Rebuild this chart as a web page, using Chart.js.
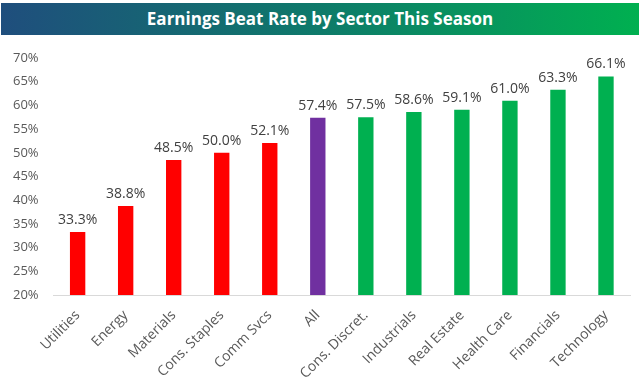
<!DOCTYPE html>
<html>
<head>
<meta charset="utf-8">
<script src="https://cdn.jsdelivr.net/npm/chart.js@4"></script>
<style>
  body { margin: 0; background: #fff; width: 642px; height: 386px; overflow: hidden; }
  #title {
    position: absolute; left: 1px; top: 3px; width: 638px; height: 32px;
    background: linear-gradient(to right, #1f4e7d, #0e7a6a 50%, #00b050);
    color: #fff; font: bold 17px "Open Sans", sans-serif; text-align: center; line-height: 31px;
  }
  #wrap { position: absolute; left: 0; top: 35px; width: 642px; height: 351px; }
</style>
</head>
<body>
<div id="title">Earnings Beat Rate by Sector This Season</div>
<div id="wrap"><canvas id="chart"></canvas></div>
<script>
// sectors and beat rates (%)
const sectors = ['Utilities', 'Energy', 'Materials', 'Cons. Staples', 'Comm Svcs', 'All',
  'Cons. Discret.', 'Industrials', 'Real Estate', 'Health Care', 'Financials', 'Technology'];
const beatRates = [33.3, 38.8, 48.5, 50.0, 52.1, 57.4, 57.5, 58.6, 59.1, 61.0, 63.3, 66.1];
const barColors = ['#ff0000', '#ff0000', '#ff0000', '#ff0000', '#ff0000', '#7030a0',
  '#00b050', '#00b050', '#00b050', '#00b050', '#00b050', '#00b050'];
const yTicks = [20, 25, 30, 35, 40, 45, 50, 55, 60, 65, 70];

const valueLabels = {
  id: 'valueLabels',
  afterDatasetsDraw(chart) {
    const ctx = chart.ctx;
    const meta = chart.getDatasetMeta(0);
    ctx.save();
    ctx.font = '14px "Open Sans", sans-serif';
    ctx.fillStyle = '#404040';
    ctx.textAlign = 'center';
    ctx.textBaseline = 'bottom';
    meta.data.forEach((bar, i) => {
      ctx.fillText(beatRates[i].toFixed(1) + '%', bar.x, bar.y - 5);
    });
    ctx.restore();
  }
};

new Chart(document.getElementById('chart'), {
  type: 'bar',
  data: {
    labels: sectors,
    datasets: [{
      data: beatRates,
      backgroundColor: barColors,
      barPercentage: 0.64,
      categoryPercentage: 0.5
    }]
  },
  options: {
    responsive: true,
    maintainAspectRatio: false,
    animation: false,
    layout: { padding: { top: 23, right: 12, left: 6, bottom: 0 } },
    plugins: { legend: { display: false }, tooltip: { enabled: false } },
    scales: {
      x: {
        grid: { display: false },
        border: { display: true, color: '#d9d9d9', width: 1 },
        ticks: {
          color: '#595959',
          font: { family: 'Open Sans', size: 14 },
          minRotation: 45, maxRotation: 45, padding: 4
        }
      },
      y: {
        min: 20, max: 70,
        afterBuildTicks: axis => { axis.ticks = yTicks.map(v => ({ value: v })); },
        grid: { display: false },
        border: { display: false },
        ticks: {
          color: '#595959',
          font: { family: 'Open Sans', size: 13 },
          padding: 7,
          callback: v => v + '%'
        }
      }
    }
  },
  plugins: [valueLabels]
});
</script>
</body>
</html>
